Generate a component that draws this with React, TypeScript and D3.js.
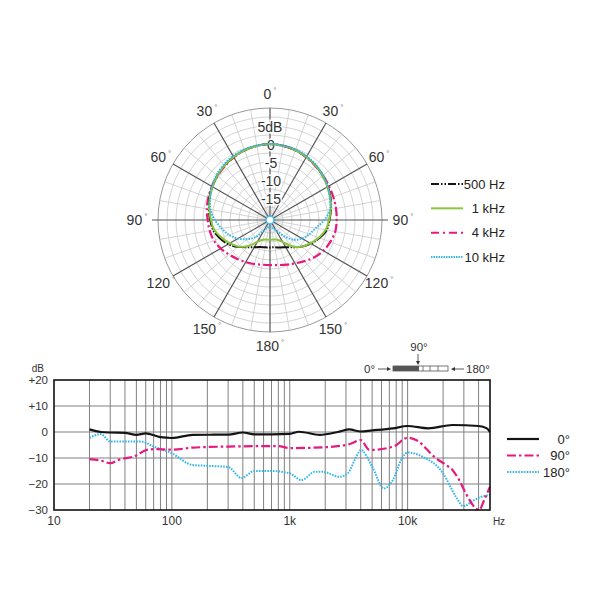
import { useEffect, useRef } from "react";
import * as d3 from "d3";

// polar pattern, dB every 10 degrees, clockwise from 0 (front)
const polarAngles = d3.range(0, 360, 10);
const polar500 = [0, -0.2, -0.5, -0.9, -1.4, -2.0, -2.6, -3.2, -3.9, -4.6, -5.1, -6.5, -8.0, -9.6, -11.2, -12.4, -13.0, -13.4, -13.5,
  -13.4, -13.1, -12.4, -11.2, -9.5, -7.7, -6.3, -5.1, -4.5, -3.9, -3.2, -2.6, -2.0, -1.4, -0.9, -0.5, -0.2];
const polar1k = [0, -0.2, -0.5, -0.9, -1.4, -2.0, -2.7, -3.3, -4.0, -4.7, -5.4, -6.7, -8.2, -9.6, -11.6, -14.0, -15.3, -15.6, -15.6,
  -15.6, -15.3, -14.1, -11.7, -9.6, -8.2, -6.8, -5.4, -4.7, -4.0, -3.3, -2.7, -2.0, -1.4, -0.9, -0.5, -0.2];
const polar4k = [0, -0.2, -0.5, -1.0, -1.5, -1.9, -2.2, -2.4, -2.5, -2.6, -2.7, -3.3, -4.0, -5.0, -6.2, -7.2, -7.9, -8.4, -8.6,
  -8.5, -8.1, -7.6, -7.0, -6.2, -5.3, -4.5, -4.1, -3.8, -3.3, -2.9, -2.5, -2.1, -1.6, -1.0, -0.5, -0.2];
const polar10k = [0, -0.1, -0.3, -0.7, -1.2, -1.8, -2.6, -3.4, -4.2, -6.0, -8.2, -9.5, -10.8, -12.6, -15.5, -17.8, -18.8, -19.2, -19.3,
  -19.2, -18.8, -17.8, -15.0, -12.8, -10.8, -9.0, -7.5, -5.8, -4.3, -3.4, -2.5, -1.7, -1.1, -0.6, -0.3, -0.1];
const polarLegend = ["500 Hz", "1 kHz", "4 kHz", "10 kHz"];
const polarAngleLabels = [0, 30, 60, 90, 120, 150, 180, 150, 120, 90, 60, 30];
const polarDbLabels = ["5dB", "0", "-5", "-10", "-15"];
const polarDbValues = [5, 0, -5, -10, -15];

// frequency response
const freq0 = [20, 25, 30, 40, 50, 60, 80, 100, 150, 300, 400, 500, 1000, 1200, 1800, 2600, 3200, 4000, 5000, 7500, 10000, 15000, 24000, 40000, 47000, 50000];
const resp0 = [1, 0, -0.2, -0.3, -1.1, -0.5, -2, -2.3, -1.1, -1, -0.2, -0.9, -0.7, 0.1, -1.1, 0.1, 1, 0.2, 0.6, 1.4, 2.3, 1.4, 2.7, 2.3, 1.4, 0];
const freq90 = [20, 25, 30, 35, 50, 60, 70, 100, 150, 300, 800, 1000, 1900, 3200, 4000, 4750, 7600, 10000, 11800, 17400, 21200, 24000, 27400, 31200, 37900, 40500, 44600, 50000];
const resp90 = [-10.4, -11, -12, -10.8, -9, -7, -6.6, -6.8, -6, -5.6, -5.4, -6.2, -5.9, -4.7, -3.1, -6.9, -5.6, -2.2, -3.1, -10.1, -12.7, -14.6, -18.5, -23.6, -29.4, -30, -26.2, -21];
const freq180 = [20, 25, 30, 40, 55, 70, 100, 150, 200, 300, 390, 500, 700, 1000, 1260, 1630, 1900, 2650, 3100, 3670, 4000, 5000, 6300, 7500, 8800, 10000, 13400, 20000, 25700, 29700, 36600, 42200, 50000];
const resp180 = [-2.3, -0.8, -3.7, -3.7, -3.7, -5.6, -8.2, -12.7, -13, -13.5, -17.7, -15, -15, -15.9, -18.5, -15.3, -15.3, -17.2, -15.9, -9.5, -6.9, -13.3, -21.7, -18.5, -10.8, -7.9, -9.5, -15.9, -24.9, -28.5, -26.2, -24.9, -24.2];
const respLegend = ["0°", "90°", "180°"];
const yTicks = [20, 10, 0, -10, -20, -30];
const yTickLabels = ["+20", "+10", "0", "−10", "−20", "−30"];
const xTicks = [10, 100, 1000, 10000];
const xTickLabels = ["10", "100", "1k", "10k"];

const FONT = "'Liberation Sans Narrow', 'Liberation Sans', Arial, sans-serif";
const FONT_WIDE = "'Liberation Sans', Arial, sans-serif";
const BLACK = "#141414";
const GREEN = "#8cc63f";
const MAGENTA = "#e6197f";
const CYAN = "#35b6e9";

export default function App() {
  const ref = useRef<SVGSVGElement>(null);

  useEffect(() => {
    if (!ref.current) return;
    const svg = d3.select(ref.current);
    svg.selectAll("*").remove();

    // ---------- polar ----------
    const cx = 270, cy = 220;
    const r = d3.scaleLinear().domain([-20, 10]).range([4, 112]);
    const pg = svg.append("g").attr("transform", `translate(${cx},${cy})`);

    // rings every 2.5 dB
    d3.range(-17.5, 10.01, 2.5).forEach(v => {
      pg.append("circle").attr("r", r(v)).attr("fill", "none")
        .attr("stroke", v === 10 ? "#999" : "#c9c9c9").attr("stroke-width", v === 10 ? 1 : 0.8);
    });
    const rad = (deg: number) => (deg * Math.PI) / 180;
    d3.range(0, 360, 10).forEach(a => {
      if (a % 30 === 0) return;
      pg.append("line")
        .attr("x1", 0).attr("y1", 0)
        .attr("x2", r(10) * Math.sin(rad(a))).attr("y2", -r(10) * Math.cos(rad(a)))
        .attr("stroke", "#c9c9c9").attr("stroke-width", 0.8);
    });
    d3.range(0, 360, 30).forEach(a => {
      const len = a === 90 || a === 270 ? r(10) + 6 : r(10);
      pg.append("line")
        .attr("x1", 0).attr("y1", 0)
        .attr("x2", len * Math.sin(rad(a))).attr("y2", -len * Math.cos(rad(a)))
        .attr("stroke", "#555").attr("stroke-width", 1.2);
    });

    // angle labels
    d3.range(0, 360, 30).forEach((a, i) => {
      const lr = a === 90 || a === 270 ? 133 : 126;
      const t = pg.append("text")
        .attr("x", lr * Math.sin(rad(a))).attr("y", -lr * Math.cos(rad(a)))
        .attr("text-anchor", "middle").attr("dominant-baseline", "central")
        .attr("font-family", FONT_WIDE).attr("font-size", 14).attr("fill", "#333")
        .text(polarAngleLabels[i]);
      t.append("tspan").attr("font-size", 8).attr("dx", 2).attr("dy", -4).attr("fill", "#777").text("°");
    });

    // dB labels on the front axis
    polarDbValues.forEach((v, i) => {
      pg.append("text")
        .attr("x", i === 0 ? 0 : 1).attr("y", -r(v) + 1)
        .attr("text-anchor", "middle").attr("dominant-baseline", "central")
        .attr("font-family", FONT_WIDE).attr("font-size", 14).attr("fill", "#333")
        .attr("stroke", "#fff").attr("stroke-width", 3).attr("paint-order", "stroke")
        .text(polarDbLabels[i]);
    });

    const radial = d3.lineRadial<number>()
      .angle((_, i) => rad(polarAngles[i]))
      .radius(d => r(d))
      .curve(d3.curveCatmullRomClosed);

    const polarSeries = [
      { data: polar4k, color: MAGENTA, width: 2.2, dash: "9,3,2,3" },
      { data: polar500, color: BLACK, width: 2, dash: "14,1.5,1.5,1.5,1.5,1.5" },
      { data: polar1k, color: GREEN, width: 2, dash: null },
      { data: polar10k, color: CYAN, width: 2, dash: "1.6,1.2" },
    ];
    polarSeries.forEach(s => {
      pg.append("path").datum(s.data)
        .attr("d", radial).attr("fill", "none")
        .attr("stroke", s.color).attr("stroke-width", s.width)
        .attr("stroke-dasharray", s.dash);
    });
    pg.append("circle").attr("r", 4).attr("fill", "#fff").attr("stroke", CYAN).attr("stroke-width", 1.5);

    // polar legend
    const legendStyles = [
      { color: BLACK, dash: "8,2,1.5,2,1.5,2", width: 2 },
      { color: GREEN, dash: null, width: 2 },
      { color: MAGENTA, dash: "8,4,2,4", width: 2 },
      { color: CYAN, dash: "1.5,1", width: 2 },
    ];
    const ly = d3.scalePoint().domain(polarLegend).range([184, 257]);
    polarLegend.forEach((name, i) => {
      svg.append("line")
        .attr("x1", 431).attr("x2", 463).attr("y1", ly(name)!).attr("y2", ly(name)!)
        .attr("stroke", legendStyles[i].color).attr("stroke-width", legendStyles[i].width)
        .attr("stroke-dasharray", legendStyles[i].dash);
      svg.append("text")
        .attr("x", 505).attr("y", ly(name)!)
        .attr("text-anchor", "end").attr("dominant-baseline", "central")
        .attr("font-family", FONT).attr("font-size", 13).attr("fill", "#222")
        .text(name);
    });

    // ---------- frequency response ----------
    const x = d3.scaleLog().domain([10, 50000]).range([54, 490]);
    const y = d3.scaleLinear().domain([-30, 20]).range([510, 380]);
    const fg = svg.append("g");

    const gridFreqs = [
      ...d3.range(20, 100, 10), ...d3.range(100, 1000, 100),
      ...d3.range(1000, 10000, 1000), ...d3.range(10000, 50000, 10000),
    ];
    gridFreqs.forEach(f => {
      fg.append("line").attr("x1", x(f)).attr("x2", x(f)).attr("y1", y(20)).attr("y2", y(-30))
        .attr("stroke", "#808080").attr("stroke-width", 1);
    });
    [10, 0, -10, -20].forEach(v => {
      fg.append("line").attr("x1", x(10)).attr("x2", x(50000)).attr("y1", y(v)).attr("y2", y(v))
        .attr("stroke", "#808080").attr("stroke-width", 1);
    });

    const respLine = d3.line<[number, number]>()
      .x(d => x(d[0])).y(d => y(d[1]))
      .curve(d3.curveMonotoneX);
    const respSeries = [
      { f: freq180, v: resp180, color: CYAN, dash: "1.6,1.2", width: 2 },
      { f: freq90, v: resp90, color: MAGENTA, dash: "9,3,2.5,3", width: 2.2 },
      { f: freq0, v: resp0, color: BLACK, dash: null, width: 2.2 },
    ];
    respSeries.forEach(s => {
      fg.append("path")
        .datum(s.f.map((f, i) => [f, s.v[i]] as [number, number]))
        .attr("d", respLine).attr("fill", "none")
        .attr("stroke", s.color).attr("stroke-width", s.width)
        .attr("stroke-dasharray", s.dash);
    });

    fg.append("rect")
      .attr("x", x(10)).attr("y", y(20))
      .attr("width", x(50000) - x(10)).attr("height", y(-30) - y(20))
      .attr("fill", "none").attr("stroke", "#111").attr("stroke-width", 1.6);

    yTicks.forEach((v, i) => {
      fg.append("text").attr("x", 48).attr("y", y(v))
        .attr("text-anchor", "end").attr("dominant-baseline", "central")
        .attr("font-family", FONT).attr("font-size", 11.5).attr("fill", "#333")
        .text(yTickLabels[i]);
    });
    fg.append("text").attr("x", 44).attr("y", 368)
      .attr("text-anchor", "end").attr("dominant-baseline", "central")
      .attr("font-family", FONT).attr("font-size", 10).attr("fill", "#333").text("dB");
    xTicks.forEach((f, i) => {
      fg.append("text").attr("x", x(f)).attr("y", 521)
        .attr("text-anchor", "middle").attr("dominant-baseline", "central")
        .attr("font-family", FONT).attr("font-size", 12).attr("fill", "#333")
        .text(xTickLabels[i]);
    });
    fg.append("text").attr("x", 499).attr("y", 521)
      .attr("text-anchor", "middle").attr("dominant-baseline", "central")
      .attr("font-family", FONT).attr("font-size", 10).attr("fill", "#333").text("Hz");

    // response legend
    const rl = d3.scalePoint().domain(respLegend).range([439, 472]);
    const rlStyles = [
      { color: BLACK, dash: null },
      { color: MAGENTA, dash: "9,3,2.5,3" },
      { color: CYAN, dash: "1.6,1.2" },
    ];
    respLegend.forEach((name, i) => {
      svg.append("line").attr("x1", 507).attr("x2", 539)
        .attr("y1", rl(name)!).attr("y2", rl(name)!)
        .attr("stroke", rlStyles[i].color).attr("stroke-width", 2.2)
        .attr("stroke-dasharray", rlStyles[i].dash);
      svg.append("text").attr("x", 570).attr("y", rl(name)!)
        .attr("text-anchor", "end").attr("dominant-baseline", "central")
        .attr("font-family", FONT).attr("font-size", 13).attr("fill", "#222")
        .text(name);
    });

    // orientation icon
    const ic = svg.append("g").attr("font-family", FONT).attr("font-size", 11.5).attr("fill", "#333");
    ic.append("text").attr("x", 419).attr("y", 347).attr("text-anchor", "middle")
      .attr("dominant-baseline", "central").text("90°");
    ic.append("line").attr("x1", 418).attr("x2", 418).attr("y1", 354).attr("y2", 362)
      .attr("stroke", "#333").attr("stroke-width", 0.8);
    ic.append("path").attr("d", "M416,361 L420,361 L418,365 Z").attr("fill", "#333");
    ic.append("text").attr("x", 375).attr("y", 369).attr("text-anchor", "end")
      .attr("dominant-baseline", "central").text("0°");
    ic.append("line").attr("x1", 378).attr("x2", 388).attr("y1", 369).attr("y2", 369)
      .attr("stroke", "#333").attr("stroke-width", 0.8);
    ic.append("path").attr("d", "M387,367 L391,369 L387,371 Z").attr("fill", "#333");
    ic.append("rect").attr("x", 393).attr("y", 366).attr("width", 55).attr("height", 5)
      .attr("fill", "#fff").attr("stroke", "#555").attr("stroke-width", 0.8);
    ic.append("rect").attr("x", 393).attr("y", 366).attr("width", 26).attr("height", 5)
      .attr("fill", "#555");
    [423, 430, 438].forEach(px => {
      ic.append("line").attr("x1", px).attr("x2", px).attr("y1", 366).attr("y2", 371)
        .attr("stroke", "#555").attr("stroke-width", 0.8);
    });
    ic.append("line").attr("x1", 454).attr("x2", 464).attr("y1", 369).attr("y2", 369)
      .attr("stroke", "#333").attr("stroke-width", 0.8);
    ic.append("path").attr("d", "M455,367 L451,369 L455,371 Z").attr("fill", "#333");
    ic.append("text").attr("x", 466).attr("y", 369).attr("text-anchor", "start")
      .attr("dominant-baseline", "central").text("180°");
  }, []);

  return (
    <>
      <style>{`body{margin:0;background:#fff}`}</style>
      <svg ref={ref} width={600} height={600} style={{ display: "block" }} />
    </>
  );
}
